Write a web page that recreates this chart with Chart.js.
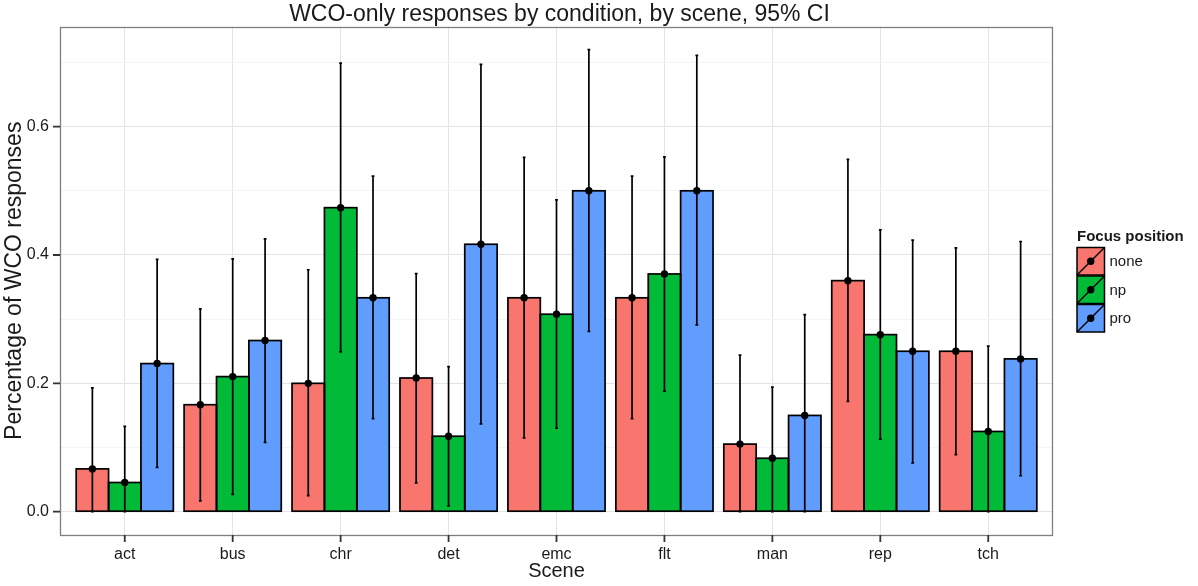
<!DOCTYPE html>
<html>
<head>
<meta charset="utf-8">
<title>WCO-only responses by condition, by scene</title>
<script src="https://cdn.jsdelivr.net/npm/chart.js@4.4.1/dist/chart.umd.min.js"></script>
<style>
  html, body { margin: 0; padding: 0; background: #ffffff; }
  canvas { display: block; }
</style>
</head>
<body>
<canvas id="chart" width="1198" height="586"></canvas>
<script>
// Scenes along the x axis and the three focus-position conditions
const scenes = ['act', 'bus', 'chr', 'det', 'emc', 'flt', 'man', 'rep', 'tch'];
const conditions = ['none', 'np', 'pro'];

// Proportion of WCO-only responses per scene
const noneMean = [0.0667, 0.1667, 0.2000, 0.2083, 0.3333, 0.3333, 0.1053, 0.3600, 0.2500];
const npMean   = [0.0455, 0.2105, 0.4737, 0.1176, 0.3077, 0.3704, 0.0833, 0.2759, 0.1250];
const proMean  = [0.2308, 0.2667, 0.3333, 0.4167, 0.5000, 0.5000, 0.1500, 0.2500, 0.2381];

// 95% confidence interval bounds
const noneLower = [0.000, 0.017, 0.025, 0.045, 0.115, 0.145, 0.000, 0.172, 0.089];
const noneUpper = [0.193, 0.316, 0.377, 0.371, 0.552, 0.523, 0.244, 0.549, 0.411];
const npLower   = [0.000, 0.027, 0.249, 0.009, 0.130, 0.188, 0.000, 0.113, 0.000];
const npUpper   = [0.133, 0.394, 0.699, 0.226, 0.486, 0.553, 0.194, 0.439, 0.258];
const proLower  = [0.069, 0.108, 0.145, 0.137, 0.281, 0.291, 0.000, 0.076, 0.056];
const proUpper  = [0.393, 0.425, 0.523, 0.697, 0.720, 0.711, 0.307, 0.423, 0.421];

// Labelled y ticks (minor grid lines fall halfway between them)
const yTickLabels = ['0.0', '0.2', '0.4', '0.6'];

const fillColours = ['#F8766D', '#00BA38', '#619CFF'];
const means  = [noneMean, npMean, proMean];
const lowers = [noneLower, npLower, proLower];
const uppers = [noneUpper, npUpper, proUpper];

// Bars are dodged side by side within a 0.9-wide slot per scene
const dodgeWidth = 0.9;
const slot = dodgeWidth / conditions.length;
const offsetFor = j => (j - (conditions.length - 1) / 2) * slot;

const FONT = '"Liberation Sans", Arial, Helvetica, sans-serif';
const TEXT = '#1a1a1a';
const TICK_LEN = 7;
const INK = 1.7;      // stroke width of outlines and whiskers
const DOT = 3.7;      // radius of the mean points

function isMajor(v) { return Math.round(v * 10) % 2 === 0; }

// Outlines, 95% CI whiskers and mean points over the bars
const overlayPlugin = {
  id: 'overlay',
  afterDatasetsDraw(chart) {
    const ctx = chart.ctx;
    const xs = chart.scales.x, ys = chart.scales.y;
    ctx.save();
    // bar outlines, stroked on the edges so neighbours share one line
    ctx.strokeStyle = '#000';
    ctx.lineWidth = INK;
    ctx.lineJoin = 'miter';
    conditions.forEach((c, j) => {
      chart.getDatasetMeta(j).data.forEach(el => {
        const half = el.width / 2;
        ctx.strokeRect(el.x - half, el.y, el.width, el.base - el.y);
      });
    });
    // whiskers
    const capHalf = 0.013 * (xs.getPixelForValue(1) - xs.getPixelForValue(0));
    ctx.lineWidth = INK;
    conditions.forEach((c, j) => {
      scenes.forEach((s, i) => {
        const px = xs.getPixelForValue(i + offsetFor(j));
        const lo = ys.getPixelForValue(lowers[j][i]);
        const hi = ys.getPixelForValue(uppers[j][i]);
        ctx.beginPath();
        ctx.moveTo(px, lo); ctx.lineTo(px, hi);
        ctx.moveTo(px - capHalf, lo); ctx.lineTo(px + capHalf, lo);
        ctx.moveTo(px - capHalf, hi); ctx.lineTo(px + capHalf, hi);
        ctx.stroke();
      });
    });
    // mean points
    ctx.fillStyle = '#000';
    conditions.forEach((c, j) => {
      scenes.forEach((s, i) => {
        const px = xs.getPixelForValue(i + offsetFor(j));
        const py = ys.getPixelForValue(means[j][i]);
        ctx.beginPath();
        ctx.arc(px, py, DOT, 0, Math.PI * 2);
        ctx.fill();
      });
    });
    ctx.restore();
  },
  afterDraw(chart) {
    const ctx = chart.ctx;
    const a = chart.chartArea;
    const xs = chart.scales.x, ys = chart.scales.y;
    ctx.save();
    // panel border
    ctx.strokeStyle = '#7F7F7F';
    ctx.lineWidth = 1.3;
    ctx.strokeRect(Math.round(a.left) + 0.5, Math.round(a.top) + 0.5,
                   Math.round(a.right - a.left) - 1, Math.round(a.bottom - a.top) - 1);
    // axis tick marks outside the panel
    ctx.strokeStyle = '#333';
    ctx.lineWidth = 1.8;
    ctx.beginPath();
    ys.ticks.forEach(t => {
      if (!isMajor(t.value)) return;
      const py = ys.getPixelForValue(t.value);
      ctx.moveTo(a.left - TICK_LEN, py); ctx.lineTo(a.left, py);
    });
    xs.ticks.forEach(t => {
      if (!Number.isInteger(t.value)) return;
      const px = xs.getPixelForValue(t.value);
      ctx.moveTo(px, a.bottom); ctx.lineTo(px, a.bottom + TICK_LEN);
    });
    ctx.stroke();
    // plot title
    ctx.fillStyle = TEXT;
    ctx.font = '23px ' + FONT;
    ctx.textAlign = 'center';
    ctx.textBaseline = 'alphabetic';
    ctx.fillText('WCO-only responses by condition, by scene, 95% CI', (a.left + a.right) / 2 + 3, 21);
    // legend
    const lx = a.right + 24, ty = 241;
    ctx.textAlign = 'left';
    ctx.font = 'bold 15px ' + FONT;
    ctx.fillText('Focus position', lx, ty);
    const key = 27.5, pitch = 28.5, top0 = 247.5;
    ctx.font = '15px ' + FONT;
    conditions.forEach((c, j) => {
      const y = top0 + j * pitch;
      ctx.fillStyle = fillColours[j];
      ctx.fillRect(lx, y, key, key);
      ctx.strokeStyle = '#000';
      ctx.lineWidth = 1.5;
      ctx.strokeRect(lx, y, key, key);
      ctx.beginPath();
      ctx.moveTo(lx, y + key); ctx.lineTo(lx + key, y);
      ctx.stroke();
      ctx.fillStyle = '#000';
      ctx.beginPath();
      ctx.arc(lx + key / 2, y + key / 2, DOT, 0, Math.PI * 2);
      ctx.fill();
      ctx.fillStyle = TEXT;
      ctx.textBaseline = 'middle';
      ctx.fillText(c, lx + key + 5, y + key / 2 + 1);
      ctx.textBaseline = 'alphabetic';
    });
    ctx.restore();
  }
};

const datasets = conditions.map((c, j) => ({
  label: c,
  data: scenes.map((s, i) => ({ x: i + offsetFor(j), y: means[j][i] })),
  backgroundColor: fillColours[j],
  borderWidth: 0,
  grouped: false,
  barPercentage: 1,
  categoryPercentage: 1
}));

new Chart(document.getElementById('chart'), {
  type: 'bar',
  data: { datasets },
  plugins: [overlayPlugin],
  options: {
    responsive: false,
    animation: false,
    devicePixelRatio: 1,
    events: [],
    layout: { padding: { top: 26.5, right: 145, bottom: 0, left: 0 } },
    plugins: { legend: { display: false }, tooltip: { enabled: false }, title: { display: false } },
    scales: {
      x: {
        type: 'linear',
        offset: false,
        min: -0.6,
        max: scenes.length - 1 + 0.6,
        afterFit(scale) { scale.height = 51; },
        border: { display: false },
        grid: { offset: false, color: '#E4E4E4', lineWidth: 1, drawTicks: false },
        ticks: {
          stepSize: 1,
          includeBounds: false,
          autoSkip: false,
          maxRotation: 0,
          padding: 3 + TICK_LEN,
          color: TEXT,
          font: { family: FONT, size: 16 },
          callback: v => (Number.isInteger(v) ? scenes[v] : '')
        },
        title: {
          display: true,
          text: 'Scene',
          color: TEXT,
          font: { family: FONT, size: 20 },
          padding: { top: 0, bottom: 3 }
        }
      },
      y: {
        type: 'linear',
        min: -0.0363,
        max: 0.756,
        afterFit(scale) { scale.width = 60; },
        border: { display: false },
        grid: {
          color: ctx => (isMajor(ctx.tick.value) ? '#E4E4E4' : '#F4F4F4'),
          lineWidth: 1,
          drawTicks: false
        },
        ticks: {
          stepSize: 0.1,
          includeBounds: false,
          autoSkip: false,
          padding: 4 + TICK_LEN,
          color: TEXT,
          font: { family: FONT, size: 16 },
          callback: v => (isMajor(v) ? yTickLabels[Math.round(v * 5)] : '')
        },
        title: {
          display: true,
          text: 'Percentage of WCO responses',
          color: TEXT,
          font: { family: FONT, size: 23 },
          padding: { top: 1, bottom: 0 }
        }
      }
    }
  }
});
</script>
</body>
</html>
